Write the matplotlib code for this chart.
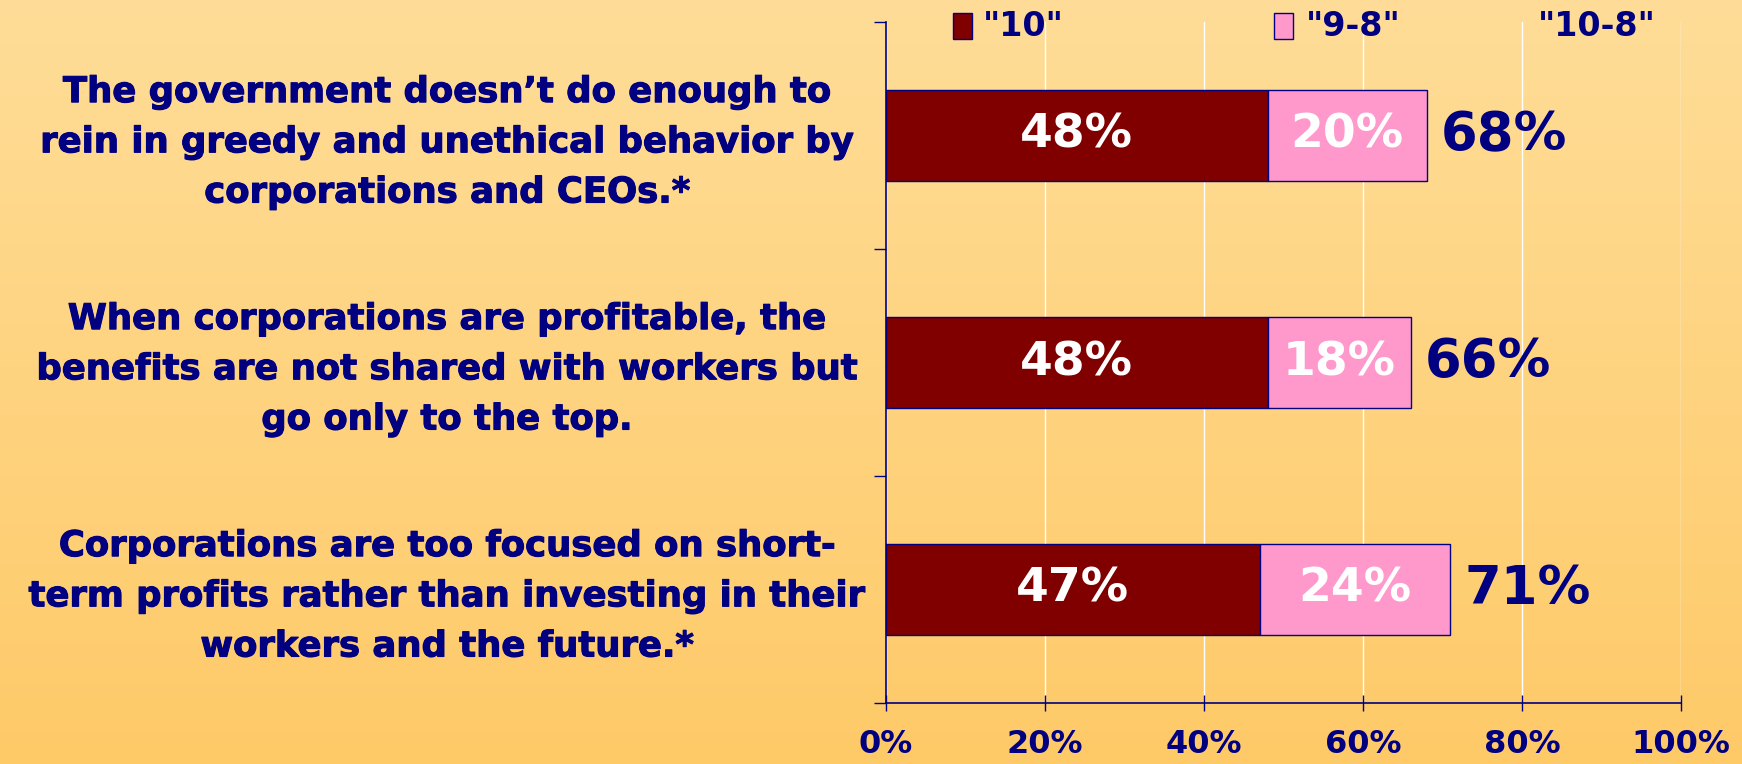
import numpy as np
import matplotlib
matplotlib.use("Agg")
import matplotlib.pyplot as plt
import matplotlib.patheffects as pe
from matplotlib.patches import Rectangle
from matplotlib.transforms import blended_transform_factory

# data
statements = [
    "The government doesn\u2019t do enough to\nrein in greedy and unethical behavior by\ncorporations and CEOs.*",
    "When corporations are profitable, the\nbenefits are not shared with workers but\ngo only to the top.",
    "Corporations are too focused on short-\nterm profits rather than investing in their\nworkers and the future.*",
]
ten = [48, 48, 47]
nine_eight = [20, 18, 24]
ten_eight = [68, 66, 71]
series_names = ['"10"', '"9-8"', '"10-8"']
x_ticks = [0, 20, 40, 60, 80, 100]

NAVY = "#000080"
DARKRED = "#800000"
PINK = "#FF99CC"

plt.rcParams['font.family'] = ['DejaVu Sans']
plt.rcParams['font.weight'] = 'bold'

fig = plt.figure(figsize=(17.42, 7.64), dpi=100)

# background gradient
bg = fig.add_axes([0, 0, 1, 1], zorder=-10)
grad = np.linspace(0, 1, 256).reshape(-1, 1)
top = np.array([255, 221, 152]) / 255
bot = np.array([254, 202, 104]) / 255
img = top + (bot - top) * grad[:, :, None]
bg.imshow(img, aspect='auto', extent=[0, 1, 0, 1])
bg.axis('off')

ax = fig.add_axes([886 / 1742, 61 / 764, 795 / 1742, 681 / 764])
ax.set_facecolor('none')

y = np.arange(len(statements))
h = 0.40
ax.barh(y, ten, height=h, color=DARKRED, edgecolor=NAVY, linewidth=1, zorder=3)
ax.barh(y, nine_eight, left=ten, height=h, color=PINK, edgecolor=NAVY, linewidth=1, zorder=3)

for i in range(len(y)):
    ax.text(ten[i] / 2, y[i], f"{ten[i]}%", color="white", fontsize=34,
            fontweight='bold', ha='center', va='center', zorder=4)
    ax.text(ten[i] + nine_eight[i] / 2, y[i], f"{nine_eight[i]}%", color="white",
            fontsize=34, fontweight='bold', ha='center', va='center', zorder=4)
    ax.text(ten_eight[i] + 1.8, y[i], f"{ten_eight[i]}%", color=NAVY, fontsize=38,
            fontweight='bold', ha='left', va='center', zorder=4)

ax.set_xlim(0, 100)
ax.set_ylim(len(y) - 0.5, -0.5)
ax.set_xticks(x_ticks)
ax.set_xticklabels([f"{t}%" for t in x_ticks], fontsize=23, color=NAVY, fontweight='bold')
ax.tick_params(axis='x', direction='inout', length=12, width=1, color=NAVY, pad=13)
ax.set_yticks(np.arange(len(y) + 1) - 0.5)
ax.set_yticklabels([])
ax.tick_params(axis='y', direction='out', length=9, width=1, color=NAVY)
ax.xaxis.grid(True, color='white', linewidth=1)
ax.set_axisbelow(True)
for s in ['top', 'right']:
    ax.spines[s].set_visible(False)
for s in ['left', 'bottom']:
    ax.spines[s].set_color(NAVY)
    ax.spines[s].set_linewidth(1.2)

# statements on the left
tr = blended_transform_factory(fig.transFigure, ax.transData)
for i, s in enumerate(statements):
    ax.text(447 / 1742, y[i] + 0.03, s, transform=tr, ha='center', va='center',
            multialignment='center', fontsize=25.5, fontweight='bold', color=NAVY,
            linespacing=1.6,
            path_effects=[pe.withStroke(linewidth=0.8, foreground=NAVY)])

# legend
leg_y = 1 - 26 / 764
fig.patches.append(Rectangle((953 / 1742, leg_y - 13 / 764), 19 / 1742, 26 / 764,
                             transform=fig.transFigure, facecolor=DARKRED, edgecolor=NAVY, lw=1))
fig.patches.append(Rectangle((1274 / 1742, leg_y - 13 / 764), 19 / 1742, 26 / 764,
                             transform=fig.transFigure, facecolor=PINK, edgecolor=NAVY, lw=1))
for xpos, name in zip([983, 1306, 1538], series_names):
    fig.text(xpos / 1742, leg_y, name, fontsize=24, fontweight='bold', color=NAVY,
             ha='left', va='center')

fig.savefig("out.png", dpi=100)
